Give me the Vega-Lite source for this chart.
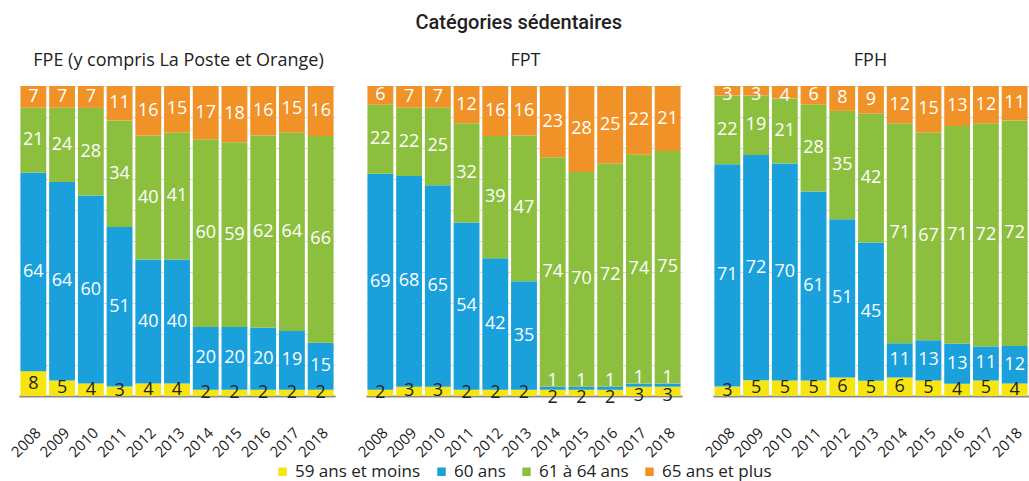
{
  "$schema": "https://vega.github.io/schema/vega-lite/v6.json",
  "autosize": {"type": "pad"},
  "padding": {"left": 8, "top": 12, "right": 0, "bottom": 21},
  "background": "white",
  "title": {"text": "Catégories sédentaires", "font": "Roboto", "fontSize": 20, "fontWeight": 500, "color": "#222222", "anchor": "middle", "offset": 19},
  "spacing": 0,
  "bounds": "flush",
  "data": {"values": [
    {"panel":"FPE","year":"2008","cat":"59 ans et moins","value":8},{"panel":"FPE","year":"2008","cat":"60 ans","value":64},{"panel":"FPE","year":"2008","cat":"61 à 64 ans","value":21},{"panel":"FPE","year":"2008","cat":"65 ans et plus","value":7},
    {"panel":"FPE","year":"2009","cat":"59 ans et moins","value":5},{"panel":"FPE","year":"2009","cat":"60 ans","value":64},{"panel":"FPE","year":"2009","cat":"61 à 64 ans","value":24},{"panel":"FPE","year":"2009","cat":"65 ans et plus","value":7},
    {"panel":"FPE","year":"2010","cat":"59 ans et moins","value":4},{"panel":"FPE","year":"2010","cat":"60 ans","value":60},{"panel":"FPE","year":"2010","cat":"61 à 64 ans","value":28},{"panel":"FPE","year":"2010","cat":"65 ans et plus","value":7},
    {"panel":"FPE","year":"2011","cat":"59 ans et moins","value":3},{"panel":"FPE","year":"2011","cat":"60 ans","value":51},{"panel":"FPE","year":"2011","cat":"61 à 64 ans","value":34},{"panel":"FPE","year":"2011","cat":"65 ans et plus","value":11},
    {"panel":"FPE","year":"2012","cat":"59 ans et moins","value":4},{"panel":"FPE","year":"2012","cat":"60 ans","value":40},{"panel":"FPE","year":"2012","cat":"61 à 64 ans","value":40},{"panel":"FPE","year":"2012","cat":"65 ans et plus","value":16},
    {"panel":"FPE","year":"2013","cat":"59 ans et moins","value":4},{"panel":"FPE","year":"2013","cat":"60 ans","value":40},{"panel":"FPE","year":"2013","cat":"61 à 64 ans","value":41},{"panel":"FPE","year":"2013","cat":"65 ans et plus","value":15},
    {"panel":"FPE","year":"2014","cat":"59 ans et moins","value":2},{"panel":"FPE","year":"2014","cat":"60 ans","value":20},{"panel":"FPE","year":"2014","cat":"61 à 64 ans","value":60},{"panel":"FPE","year":"2014","cat":"65 ans et plus","value":17},
    {"panel":"FPE","year":"2015","cat":"59 ans et moins","value":2},{"panel":"FPE","year":"2015","cat":"60 ans","value":20},{"panel":"FPE","year":"2015","cat":"61 à 64 ans","value":59},{"panel":"FPE","year":"2015","cat":"65 ans et plus","value":18},
    {"panel":"FPE","year":"2016","cat":"59 ans et moins","value":2},{"panel":"FPE","year":"2016","cat":"60 ans","value":20},{"panel":"FPE","year":"2016","cat":"61 à 64 ans","value":62},{"panel":"FPE","year":"2016","cat":"65 ans et plus","value":16},
    {"panel":"FPE","year":"2017","cat":"59 ans et moins","value":2},{"panel":"FPE","year":"2017","cat":"60 ans","value":19},{"panel":"FPE","year":"2017","cat":"61 à 64 ans","value":64},{"panel":"FPE","year":"2017","cat":"65 ans et plus","value":15},
    {"panel":"FPE","year":"2018","cat":"59 ans et moins","value":2},{"panel":"FPE","year":"2018","cat":"60 ans","value":15},{"panel":"FPE","year":"2018","cat":"61 à 64 ans","value":66},{"panel":"FPE","year":"2018","cat":"65 ans et plus","value":16},
    {"panel":"FPT","year":"2008","cat":"59 ans et moins","value":2},{"panel":"FPT","year":"2008","cat":"60 ans","value":69},{"panel":"FPT","year":"2008","cat":"61 à 64 ans","value":22},{"panel":"FPT","year":"2008","cat":"65 ans et plus","value":6},
    {"panel":"FPT","year":"2009","cat":"59 ans et moins","value":3},{"panel":"FPT","year":"2009","cat":"60 ans","value":68},{"panel":"FPT","year":"2009","cat":"61 à 64 ans","value":22},{"panel":"FPT","year":"2009","cat":"65 ans et plus","value":7},
    {"panel":"FPT","year":"2010","cat":"59 ans et moins","value":3},{"panel":"FPT","year":"2010","cat":"60 ans","value":65},{"panel":"FPT","year":"2010","cat":"61 à 64 ans","value":25},{"panel":"FPT","year":"2010","cat":"65 ans et plus","value":7},
    {"panel":"FPT","year":"2011","cat":"59 ans et moins","value":2},{"panel":"FPT","year":"2011","cat":"60 ans","value":54},{"panel":"FPT","year":"2011","cat":"61 à 64 ans","value":32},{"panel":"FPT","year":"2011","cat":"65 ans et plus","value":12},
    {"panel":"FPT","year":"2012","cat":"59 ans et moins","value":2},{"panel":"FPT","year":"2012","cat":"60 ans","value":42},{"panel":"FPT","year":"2012","cat":"61 à 64 ans","value":39},{"panel":"FPT","year":"2012","cat":"65 ans et plus","value":16},
    {"panel":"FPT","year":"2013","cat":"59 ans et moins","value":2},{"panel":"FPT","year":"2013","cat":"60 ans","value":35},{"panel":"FPT","year":"2013","cat":"61 à 64 ans","value":47},{"panel":"FPT","year":"2013","cat":"65 ans et plus","value":16},
    {"panel":"FPT","year":"2014","cat":"59 ans et moins","value":2},{"panel":"FPT","year":"2014","cat":"60 ans","value":1},{"panel":"FPT","year":"2014","cat":"61 à 64 ans","value":74},{"panel":"FPT","year":"2014","cat":"65 ans et plus","value":23},
    {"panel":"FPT","year":"2015","cat":"59 ans et moins","value":2},{"panel":"FPT","year":"2015","cat":"60 ans","value":1},{"panel":"FPT","year":"2015","cat":"61 à 64 ans","value":70},{"panel":"FPT","year":"2015","cat":"65 ans et plus","value":28},
    {"panel":"FPT","year":"2016","cat":"59 ans et moins","value":2},{"panel":"FPT","year":"2016","cat":"60 ans","value":1},{"panel":"FPT","year":"2016","cat":"61 à 64 ans","value":72},{"panel":"FPT","year":"2016","cat":"65 ans et plus","value":25},
    {"panel":"FPT","year":"2017","cat":"59 ans et moins","value":3},{"panel":"FPT","year":"2017","cat":"60 ans","value":1},{"panel":"FPT","year":"2017","cat":"61 à 64 ans","value":74},{"panel":"FPT","year":"2017","cat":"65 ans et plus","value":22},
    {"panel":"FPT","year":"2018","cat":"59 ans et moins","value":3},{"panel":"FPT","year":"2018","cat":"60 ans","value":1},{"panel":"FPT","year":"2018","cat":"61 à 64 ans","value":75},{"panel":"FPT","year":"2018","cat":"65 ans et plus","value":21},
    {"panel":"FPH","year":"2008","cat":"59 ans et moins","value":3},{"panel":"FPH","year":"2008","cat":"60 ans","value":71},{"panel":"FPH","year":"2008","cat":"61 à 64 ans","value":22},{"panel":"FPH","year":"2008","cat":"65 ans et plus","value":3},
    {"panel":"FPH","year":"2009","cat":"59 ans et moins","value":5},{"panel":"FPH","year":"2009","cat":"60 ans","value":72},{"panel":"FPH","year":"2009","cat":"61 à 64 ans","value":19},{"panel":"FPH","year":"2009","cat":"65 ans et plus","value":3},
    {"panel":"FPH","year":"2010","cat":"59 ans et moins","value":5},{"panel":"FPH","year":"2010","cat":"60 ans","value":70},{"panel":"FPH","year":"2010","cat":"61 à 64 ans","value":21},{"panel":"FPH","year":"2010","cat":"65 ans et plus","value":4},
    {"panel":"FPH","year":"2011","cat":"59 ans et moins","value":5},{"panel":"FPH","year":"2011","cat":"60 ans","value":61},{"panel":"FPH","year":"2011","cat":"61 à 64 ans","value":28},{"panel":"FPH","year":"2011","cat":"65 ans et plus","value":6},
    {"panel":"FPH","year":"2012","cat":"59 ans et moins","value":6},{"panel":"FPH","year":"2012","cat":"60 ans","value":51},{"panel":"FPH","year":"2012","cat":"61 à 64 ans","value":35},{"panel":"FPH","year":"2012","cat":"65 ans et plus","value":8},
    {"panel":"FPH","year":"2013","cat":"59 ans et moins","value":5},{"panel":"FPH","year":"2013","cat":"60 ans","value":45},{"panel":"FPH","year":"2013","cat":"61 à 64 ans","value":42},{"panel":"FPH","year":"2013","cat":"65 ans et plus","value":9},
    {"panel":"FPH","year":"2014","cat":"59 ans et moins","value":6},{"panel":"FPH","year":"2014","cat":"60 ans","value":11},{"panel":"FPH","year":"2014","cat":"61 à 64 ans","value":71},{"panel":"FPH","year":"2014","cat":"65 ans et plus","value":12},
    {"panel":"FPH","year":"2015","cat":"59 ans et moins","value":5},{"panel":"FPH","year":"2015","cat":"60 ans","value":13},{"panel":"FPH","year":"2015","cat":"61 à 64 ans","value":67},{"panel":"FPH","year":"2015","cat":"65 ans et plus","value":15},
    {"panel":"FPH","year":"2016","cat":"59 ans et moins","value":4},{"panel":"FPH","year":"2016","cat":"60 ans","value":13},{"panel":"FPH","year":"2016","cat":"61 à 64 ans","value":71},{"panel":"FPH","year":"2016","cat":"65 ans et plus","value":13},
    {"panel":"FPH","year":"2017","cat":"59 ans et moins","value":5},{"panel":"FPH","year":"2017","cat":"60 ans","value":11},{"panel":"FPH","year":"2017","cat":"61 à 64 ans","value":72},{"panel":"FPH","year":"2017","cat":"65 ans et plus","value":12},
    {"panel":"FPH","year":"2018","cat":"59 ans et moins","value":4},{"panel":"FPH","year":"2018","cat":"60 ans","value":12},{"panel":"FPH","year":"2018","cat":"61 à 64 ans","value":72},{"panel":"FPH","year":"2018","cat":"65 ans et plus","value":11}
  ]},
  "hconcat": [
    {
      "width": 347, "height": 310,
      "title": {"text": "FPE (y compris La Poste et Orange)", "dx": -14},
      "transform": [{"filter": "datum.panel === 'FPE'"}],
      "encoding": {"x": {"field": "year", "type": "ordinal", "title": null, "scale": {"range": [0, 316], "paddingInner": 0.1, "paddingOuter": 0.05}}},
      "layer": [
        {"mark": {"type": "bar"}, "encoding": {
          "y": {"field": "value", "type": "quantitative", "stack": "normalize", "title": null},
          "color": {"field": "cat", "type": "nominal", "title": null, "scale": {"domain": ["59 ans et moins", "60 ans", "61 à 64 ans", "65 ans et plus"], "range": ["#f7e512", "#1aa0db", "#8dbf3f", "#f09227"]}},
          "order": {"field": "cat", "sort": "ascending"}}},
        {"mark": {"type": "text", "font": "Open Sans", "fontSize": 18}, "encoding": {
          "y": {"field": "value", "type": "quantitative", "stack": "normalize", "bandPosition": 0.5},
          "detail": {"field": "cat"},
          "order": {"field": "cat", "sort": "ascending"},
          "text": {"field": "value", "type": "quantitative"},
          "color": {"condition": {"test": "datum.cat === '59 ans et moins'", "value": "#222222"}, "value": "white"}}}
      ]
    },
    {
      "width": 347, "height": 310,
      "title": {"text": "FPT", "dx": -14},
      "transform": [{"filter": "datum.panel === 'FPT'"}],
      "encoding": {"x": {"field": "year", "type": "ordinal", "title": null, "scale": {"range": [0, 316], "paddingInner": 0.1, "paddingOuter": 0.05}}},
      "layer": [
        {"mark": {"type": "bar"}, "encoding": {
          "y": {"field": "value", "type": "quantitative", "stack": "normalize", "title": null},
          "color": {"field": "cat", "type": "nominal", "title": null, "scale": {"domain": ["59 ans et moins", "60 ans", "61 à 64 ans", "65 ans et plus"], "range": ["#f7e512", "#1aa0db", "#8dbf3f", "#f09227"]}},
          "order": {"field": "cat", "sort": "ascending"}}},
        {"mark": {"type": "text", "font": "Open Sans"}, "encoding": {
          "y": {"field": "value", "type": "quantitative", "stack": "normalize", "bandPosition": 0.5},
          "detail": {"field": "cat"},
          "order": {"field": "cat", "sort": "ascending"},
          "text": {"condition": {"test": "!(datum.year >= '2014' && (datum.cat === '60 ans' || datum.cat === '59 ans et moins'))", "field": "value", "type": "quantitative"}, "value": ""},
          "size": {"condition": {"test": "!(datum.year >= '2014' && (datum.cat === '60 ans' || datum.cat === '59 ans et moins'))", "value": 18}, "value": 0},
          "color": {"condition": {"test": "datum.cat === '59 ans et moins'", "value": "#222222"}, "value": "white"}}},
        {"mark": {"type": "text", "font": "Open Sans", "dy": -7, "color": "white"}, "encoding": {
          "y": {"field": "value", "type": "quantitative", "stack": "normalize", "bandPosition": 0.5},
          "detail": {"field": "cat"},
          "order": {"field": "cat", "sort": "ascending"},
          "text": {"condition": {"test": "datum.year >= '2014' && datum.cat === '60 ans'", "field": "value", "type": "quantitative"}, "value": ""},
          "size": {"condition": {"test": "datum.year >= '2014' && datum.cat === '60 ans'", "value": 18}, "value": 0}}},
        {"mark": {"type": "text", "font": "Open Sans", "dy": 5, "color": "#222222"}, "encoding": {
          "y": {"field": "value", "type": "quantitative", "stack": "normalize", "bandPosition": 0.5},
          "detail": {"field": "cat"},
          "order": {"field": "cat", "sort": "ascending"},
          "text": {"condition": {"test": "datum.year >= '2014' && datum.cat === '59 ans et moins'", "field": "value", "type": "quantitative"}, "value": ""},
          "size": {"condition": {"test": "datum.year >= '2014' && datum.cat === '59 ans et moins'", "value": 18}, "value": 0}}}
      ]
    },
    {
      "width": 315, "height": 310,
      "title": {"text": "FPH", "dx": 0},
      "transform": [{"filter": "datum.panel === 'FPH'"}],
      "encoding": {"x": {"field": "year", "type": "ordinal", "title": null, "scale": {"range": [0, 316], "paddingInner": 0.1, "paddingOuter": 0.05}}},
      "layer": [
        {"mark": {"type": "bar"}, "encoding": {
          "y": {"field": "value", "type": "quantitative", "stack": "normalize", "title": null},
          "color": {"field": "cat", "type": "nominal", "title": null, "scale": {"domain": ["59 ans et moins", "60 ans", "61 à 64 ans", "65 ans et plus"], "range": ["#f7e512", "#1aa0db", "#8dbf3f", "#f09227"]}},
          "order": {"field": "cat", "sort": "ascending"}}},
        {"mark": {"type": "text", "font": "Open Sans"}, "encoding": {
          "y": {"field": "value", "type": "quantitative", "stack": "normalize", "bandPosition": 0.5},
          "detail": {"field": "cat"},
          "order": {"field": "cat", "sort": "ascending"},
          "text": {"condition": {"test": "!(datum.cat === '65 ans et plus' && datum.value <= 4)", "field": "value", "type": "quantitative"}, "value": ""},
          "size": {"condition": {"test": "!(datum.cat === '65 ans et plus' && datum.value <= 4)", "value": 18}, "value": 0},
          "color": {"condition": {"test": "datum.cat === '59 ans et moins'", "value": "#222222"}, "value": "white"}}},
        {"mark": {"type": "text", "font": "Open Sans", "dy": 4, "color": "white"}, "encoding": {
          "y": {"field": "value", "type": "quantitative", "stack": "normalize", "bandPosition": 0.5},
          "detail": {"field": "cat"},
          "order": {"field": "cat", "sort": "ascending"},
          "text": {"condition": {"test": "datum.cat === '65 ans et plus' && datum.value <= 4", "field": "value", "type": "quantitative"}, "value": ""},
          "size": {"condition": {"test": "datum.cat === '65 ans et plus' && datum.value <= 4", "value": 18}, "value": 0}}}
      ]
    }
  ],
  "resolve": {"scale": {"color": "shared"}, "legend": {"color": "shared"}},
  "config": {
    "view": {"stroke": null},
    "font": "Open Sans",
    "title": {"font": "Open Sans", "fontSize": 18, "fontWeight": "normal", "color": "#222222", "offset": 16},
    "axisX": {"domain": true, "domainColor": "#8c8c8c", "domainWidth": 2, "ticks": false, "grid": false, "labelAngle": -45, "labelFont": "Open Sans", "labelFontSize": 15, "labelColor": "#222222", "labelPadding": 29},
    "axisY": {"domain": false, "ticks": false, "labels": false, "grid": true, "gridColor": "#d9d9d9", "gridWidth": 1, "tickCount": 10},
    "legend": {"orient": "none", "legendX": 255, "legendY": 377, "direction": "horizontal", "title": null, "symbolType": "square", "symbolSize": 72, "symbolStrokeWidth": 0, "labelFont": "Open Sans", "labelFontSize": 17, "labelColor": "#222222", "labelOffset": 4, "columnPadding": 12}
  }
}
